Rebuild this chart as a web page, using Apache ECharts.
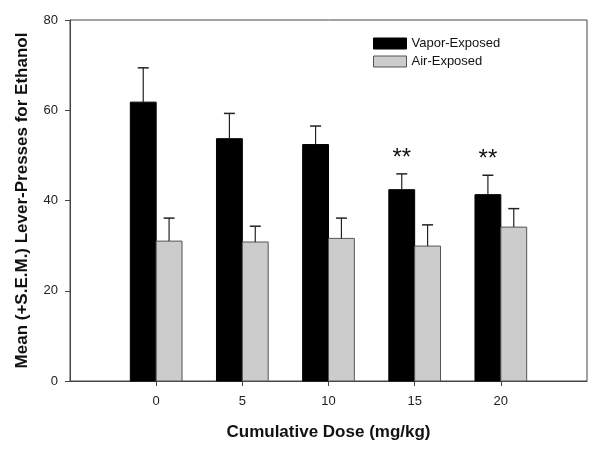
<!DOCTYPE html>
<html>
<head>
<meta charset="utf-8">
<script src="https://cdn.jsdelivr.net/npm/echarts@6/dist/echarts.min.js"></script>
<style>html,body{margin:0;padding:0;background:#fff;}#c{width:600px;height:453px;}</style>
</head>
<body>
<div id="c"></div>
<script>
var doses = [0, 5, 10, 15, 20];
var vaporMean = [61.8, 53.7, 52.4, 42.4, 41.3];
var vaporSem = [7.6, 5.6, 4.1, 3.5, 4.3];
var airMean = [31.0, 30.8, 31.6, 29.9, 34.1];
var airSem = [5.1, 3.5, 4.5, 4.7, 4.1];
var sigDoses = [15, 20];
var sigLabel = '**';
var xTicks = [0, 5, 10, 15, 20];
var yTicks = [0, 20, 40, 60, 80];

var BAR_W = 1.5; // in dose units

function makeData(means, sems) {
  return doses.map(function (d, i) { return [d, means[i], sems[i]]; });
}

function barRenderer(offsetSign, fill, stroke) {
  return function (params, api) {
    var x = api.value(0), m = api.value(1), s = api.value(2);
    var x0 = offsetSign < 0 ? x - BAR_W : x;
    var p0 = api.coord([x0, m]);
    var p1 = api.coord([x0 + BAR_W, 0]);
    var pc = api.coord([x0 + BAR_W / 2, m]);
    var pe = api.coord([x0 + BAR_W / 2, m + s]);
    var cap = 5.5;
    return {
      type: 'group',
      children: [
        { type: 'rect', shape: { x: p0[0], y: p0[1], width: p1[0] - p0[0], height: p1[1] - p0[1] },
          style: { fill: fill, stroke: stroke, lineWidth: 1 } },
        { type: 'line', shape: { x1: pc[0], y1: pc[1], x2: pe[0], y2: pe[1] }, style: { stroke: '#222', lineWidth: 1.2 } },
        { type: 'line', shape: { x1: pe[0] - cap, y1: pe[1], x2: pe[0] + cap, y2: pe[1] }, style: { stroke: '#222', lineWidth: 1.5 } }
      ]
    };
  };
}

var sigData = sigDoses.map(function (d) {
  var i = doses.indexOf(d);
  return [d, vaporMean[i] + vaporSem[i]];
});

var chart = echarts.init(document.getElementById('c'));
chart.setOption({
  animation: false,
  textStyle: { fontFamily: 'Liberation Sans, Arial, sans-serif' },
  grid: { left: 70, right: 13, top: 20, bottom: 72, show: true, borderColor: '#444', borderWidth: 1 },
  legend: {
    left: 368, top: 32, orient: 'vertical', itemWidth: 33, itemHeight: 11, itemGap: 5,
    textStyle: { fontSize: 13, color: '#111', fontFamily: 'Liberation Sans, Arial, sans-serif' },
    data: [
      { name: 'Vapor-Exposed', icon: 'rect', itemStyle: { color: '#000', borderColor: '#000', borderWidth: 1 } },
      { name: 'Air-Exposed', icon: 'rect', itemStyle: { color: '#cccccc', borderColor: '#555', borderWidth: 1 } }
    ]
  },
  xAxis: {
    type: 'value', min: -5, max: 25, interval: 5,
    name: 'Cumulative Dose (mg/kg)', nameLocation: 'middle', nameGap: 43,
    nameTextStyle: { fontSize: 17, fontWeight: 'bold', color: '#111' },
    axisLine: { show: true, onZero: false, lineStyle: { color: '#444' } },
    axisTick: { show: true, length: 5, inside: false, customValues: xTicks, lineStyle: { color: '#444' } },
    axisLabel: { fontSize: 13, color: '#222', margin: 14, customValues: xTicks },
    splitLine: { show: false }
  },
  yAxis: {
    type: 'value', min: 0, max: 80, interval: 20,
    name: 'Mean (+S.E.M.) Lever-Presses for Ethanol', nameLocation: 'middle', nameGap: 39,
    nameTextStyle: { fontSize: 17, fontWeight: 'bold', color: '#111' },
    axisLine: { show: true, onZero: false, lineStyle: { color: '#444' } },
    axisTick: { show: true, length: 5, customValues: yTicks, lineStyle: { color: '#444' } },
    axisLabel: { fontSize: 13, color: '#222', margin: 12, customValues: yTicks },
    splitLine: { show: false }
  },
  series: [
    { name: 'Vapor-Exposed', type: 'custom', itemStyle: { color: '#000' },
      renderItem: barRenderer(-1, '#000', '#000'), data: makeData(vaporMean, vaporSem),
      encode: { x: 0, y: [1, 2] } },
    { name: 'Air-Exposed', type: 'custom', itemStyle: { color: '#cccccc' },
      renderItem: barRenderer(1, '#cccccc', '#555'), data: makeData(airMean, airSem),
      encode: { x: 0, y: [1, 2] } },
    { name: 'sig', type: 'custom', silent: true,
      renderItem: function (params, api) {
        var p = api.coord([api.value(0) - BAR_W / 2, api.value(1)]);
        return { type: 'text', x: p[0], y: p[1] - 4,
          style: { text: sigLabel, fontSize: 24, fontFamily: 'Liberation Sans, Arial, sans-serif', fill: '#111', align: 'center', verticalAlign: 'bottom' } };
      },
      data: sigData, encode: { x: 0, y: 1 } }
  ]
});
</script>
</body>
</html>
